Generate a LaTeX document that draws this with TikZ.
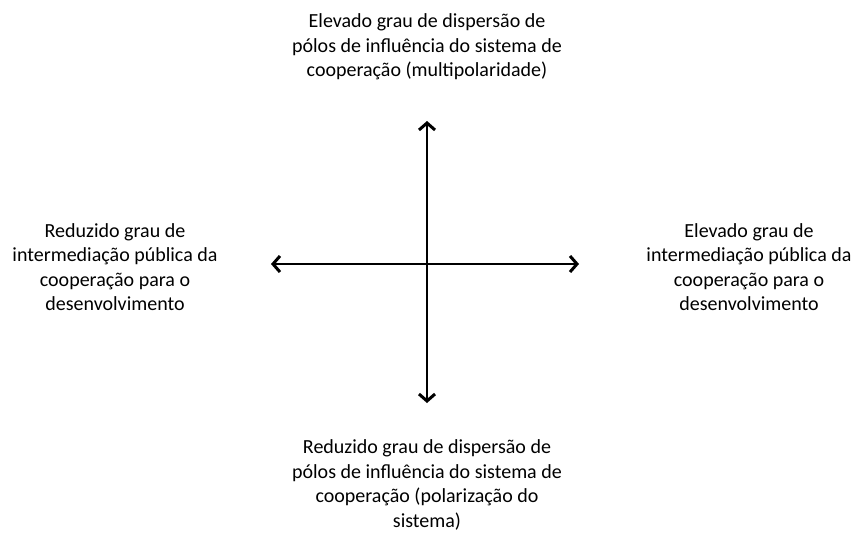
\documentclass[tikz,border=0pt]{standalone}
\usepackage{fontspec}
\setmainfont{Carlito}
\usetikzlibrary{arrows.meta}
\tikzset{
  barb/.tip={Straight Barb[length=7pt,width=16pt,line width=3pt]},
  axis/.style={line width=2pt,barb-barb},
  pole/.style={align=center,font=\fontsize{20}{24.5}\selectfont,inner sep=0pt}
}
\begin{document}
\begin{tikzpicture}[x=1pt,y=-1pt]
        \useasboundingbox (0,0) rectangle (858,533);
        \node[pole] (N) at (427,47) {Elevado grau de dispersão de\\pólos de influência do sistema de\\cooperação (multipolaridade)};
        \node[pole] (S) at (427,485) {Reduzido grau de dispersão de\\pólos de influência do sistema de\\cooperação (polarização do\\sistema)};
        \node[pole] (W) at (115,267) {Reduzido grau de\\intermediação pública da\\cooperação para o\\desenvolvimento};
        \node[pole] (E) at (749,267) {Elevado grau de\\intermediação pública da\\cooperação para o\\desenvolvimento};
        \coordinate (top) at (427,121);
        \coordinate (bot) at (427,403);
        \coordinate (lft) at (271,264);
        \coordinate (rgt) at (579,264);
        \draw[axis] (bot) -- (top);
        \draw[axis] (lft) -- (rgt);
    \end{tikzpicture}
\end{document}
